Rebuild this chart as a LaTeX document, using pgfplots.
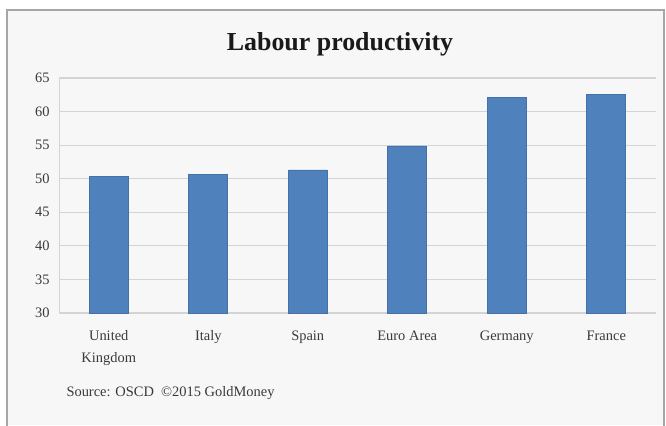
\documentclass[border=0pt]{standalone}
\usepackage{pgfplots}
\pgfplotsset{compat=1.18}
\usepackage{fontspec}
\setmainfont{Liberation Serif}
\definecolor{barblue}{HTML}{4F81BD}
\definecolor{baredge}{HTML}{4472A8}
\definecolor{bg}{HTML}{F7F7F7}
\definecolor{gridc}{HTML}{D4D4D4}
\definecolor{txt}{HTML}{3A3A3A}
\begin{document}
\begin{tikzpicture}[x=1bp,y=1bp]
\useasboundingbox (0,0) rectangle (666,425);
\fill[white] (0,0) rectangle (666,425);
\fill[bg] (7,0) rectangle (664,415);
\draw[gray!70, line width=1.2bp] (7,-2) -- (7,415) -- (664,415) -- (664,-2);
\node[anchor=base, font=\bfseries\fontsize{26}{30}\selectfont, text=black!90] at (340,375) {Labour productivity};
\begin{axis}[
  at={(59bp,112bp)}, anchor=south west,
  scale only axis, width=597bp, height=235bp,
  xmin=-0.5, xmax=5.5, ymin=30, ymax=65,
  ytick={30,35,...,65},
  xtick={0,1,2,3,4,5},
  xticklabels={{\strut United\\\strut Kingdom},\strut Italy,\strut Spain,\strut Euro Area,\strut Germany,\strut France},
  xticklabel style={align=center, anchor=north, font=\fontsize{14.5}{22}\selectfont, text=txt, yshift=-9bp},
  yticklabel style={font=\fontsize{14.5}{17}\selectfont, text=txt, xshift=-6bp},
  /pgf/number format/assume math mode=true,
  major tick length=0pt,
  axis line style={draw=none},
  ymajorgrids, grid style={gridc, line width=1.2bp},
  axis x line*=bottom, axis y line*=left,
  ybar, bar width=39bp,
  clip=false,
]
\draw[gridc, line width=1bp] (axis cs:-0.5,30) -- (axis cs:-0.5,65);
\addplot[fill=barblue, draw=baredge, line width=0.6bp] coordinates {
  (0,50.4) (1,50.7) (2,51.3) (3,54.9) (4,62.1) (5,62.6)};
\end{axis}
\node[anchor=base west, font=\fontsize{14.5}{17}\selectfont, text=txt] at (63,29) {Source: OSCD \ \textcopyright2015 GoldMoney};
\end{tikzpicture}
\end{document}
